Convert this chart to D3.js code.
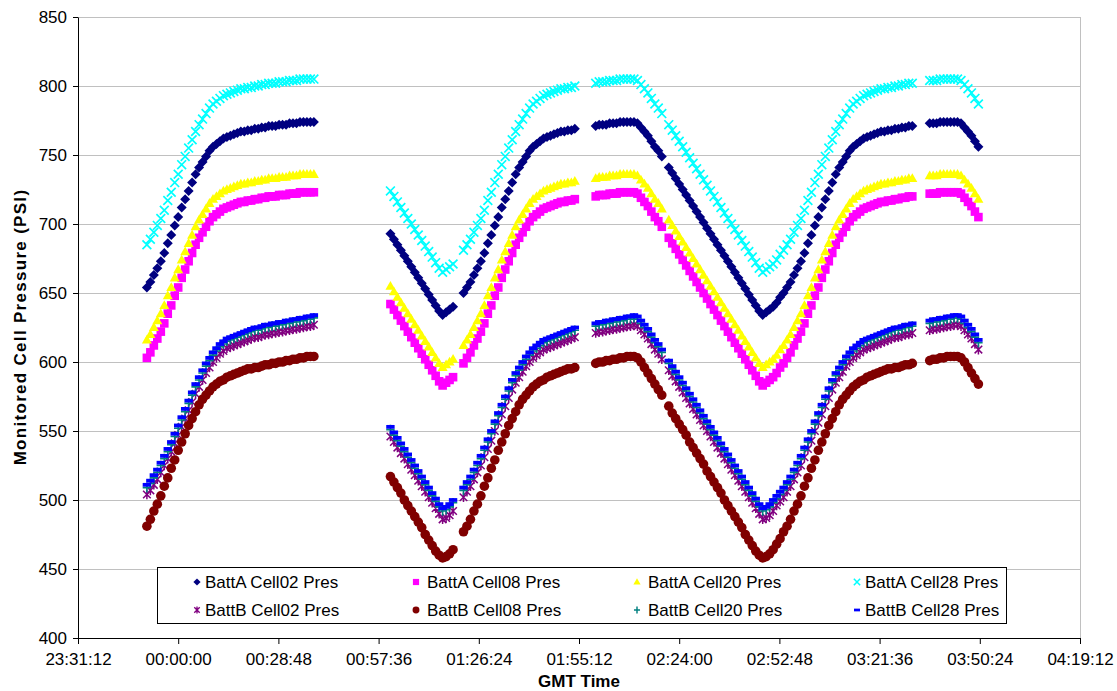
<!DOCTYPE html>
<html><head><meta charset="utf-8">
<script src="https://cdn.jsdelivr.net/npm/d3@7"></script>
<style>body{margin:0;background:#fff;} svg{display:block;font-family:Arial,"Liberation Sans",sans-serif;}</style>
</head><body><svg id="c" width="1117" height="691"></svg>
<script>
// sample segments (minutes after 00:00:00 GMT, 1-minute samples)
const segStarts = [-9, 61, 82, 120, 141, 216];
const segEnds   = [39, 79, 114, 139, 211, 230];
const xTickValues = [-28.8, 0, 28.8, 57.6, 86.4, 115.2, 144, 172.8, 201.6, 230.4, 259.2];
const xTickLabels = ["23:31:12","00:00:00","00:28:48","00:57:36","01:26:24","01:55:12","02:24:00","02:52:48","03:21:36","03:50:24","04:19:12"];
const yTicks = [400,450,500,550,600,650,700,750,800,850];
const seriesNames = ["BattA Cell02 Pres","BattA Cell08 Pres","BattA Cell20 Pres","BattA Cell28 Pres","BattB Cell02 Pres","BattB Cell08 Pres","BattB Cell20 Pres","BattB Cell28 Pres"];

const A02 = [654,658,663,668,673,679,686,692,699,705,712,718,724,730,736,741,745,749,753,756,758,760,762,763,764,765,766,767,767,768,768,769,769,770,770,771,771,771,772,772,772,773,773,773,774,774,774,774,774,
693,689,685,681,677,673,669,665,661,657,653,649,645,641,637,634,636,638,640,
650,654,658,663,668,673,679,686,692,699,705,712,718,724,730,736,741,745,749,753,756,758,760,762,763,764,765,766,767,767,768,768,769,
771,772,772,772,773,773,773,774,774,774,774,774,773,770,767,764,760,756,753,749,
741,737,733,729,725,721,717,713,709,705,701,697,693,689,685,681,677,673,669,665,661,657,653,649,645,641,637,634,636,638,640,643,647,650,654,658,663,668,673,679,686,692,699,705,712,718,724,730,736,741,745,749,753,756,758,760,762,763,764,765,766,767,767,768,768,769,769,770,770,771,771,
773,773,773,774,774,774,774,774,774,773,770,767,764,760,756];

const A08 = [603,607,612,617,622,628,635,641,648,654,661,667,673,679,685,690,694,698,702,705,707,709,711,712,713,714,715,716,716,717,717,718,718,719,719,720,720,720,721,721,721,722,722,722,723,723,723,723,723,
642,638,634,630,626,622,618,614,610,606,602,598,594,590,586,583,585,587,589,
599,603,607,612,617,622,628,635,641,648,654,661,667,673,679,685,690,694,698,702,705,707,709,711,712,713,714,715,716,716,717,717,718,
720,721,721,721,722,722,722,723,723,723,723,723,722,719,716,713,709,705,702,698,
690,686,682,678,674,670,666,662,658,654,650,646,642,638,634,630,626,622,618,614,610,606,602,598,594,590,586,583,585,587,589,592,596,599,603,607,612,617,622,628,635,641,648,654,661,667,673,679,685,690,694,698,702,705,707,709,711,712,713,714,715,716,716,717,717,718,718,719,719,720,720,
722,722,722,723,723,723,723,723,723,722,719,716,713,709,705];

const A20 = [616,620,625,630,635,641,648,654,661,667,674,680,686,692,698,703,707,711,715,718,720,722,724,725,726,727,728,729,729,730,730,731,731,732,732,733,733,733,734,734,734,735,735,735,736,736,736,736,736,
655,651,647,643,639,635,631,627,623,619,615,611,607,603,599,596,598,600,602,
612,616,620,625,630,635,641,648,654,661,667,674,680,686,692,698,703,707,711,715,718,720,722,724,725,726,727,728,729,729,730,730,731,
733,734,734,734,735,735,735,736,736,736,736,736,735,732,729,726,722,718,715,711,
703,699,695,691,687,683,679,675,671,667,663,659,655,651,647,643,639,635,631,627,623,619,615,611,607,603,599,596,598,600,602,605,609,612,616,620,625,630,635,641,648,654,661,667,674,680,686,692,698,703,707,711,715,718,720,722,724,725,726,727,728,729,729,730,730,731,731,732,732,733,733,
735,735,735,736,736,736,736,736,736,735,732,729,726,722,718];

const A28 = [685,689,694,699,704,710,717,723,730,736,743,749,755,761,767,772,776,780,784,787,789,791,793,794,795,796,797,798,798,799,799,800,800,801,801,802,802,802,803,803,803,804,804,804,805,805,805,805,805,
724,720,716,712,708,704,700,696,692,688,684,680,676,672,668,665,667,669,671,
681,685,689,694,699,704,710,717,723,730,736,743,749,755,761,767,772,776,780,784,787,789,791,793,794,795,796,797,798,798,799,799,800,
802,803,803,803,804,804,804,805,805,805,805,805,804,801,798,795,791,787,784,780,
772,768,764,760,756,752,748,744,740,736,732,728,724,720,716,712,708,704,700,696,692,688,684,680,676,672,668,665,667,669,671,674,678,681,685,689,694,699,704,710,717,723,730,736,743,749,755,761,767,772,776,780,784,787,789,791,793,794,795,796,797,798,798,799,799,800,800,801,801,802,802,
804,804,804,805,805,805,805,805,805,804,801,798,795,791,787];

const B02 = [504,507,511,515,520,525,530,535,541,547,553,559,565,571,577,582,587,592,596,600,603,606,608,610,611,612,613,614,615,616,617,618,618,619,620,620,621,621,622,622,623,623,624,624,625,625,626,626,627,
546,542,538,534,530,526,522,518,514,510,506,502,498,494,490,486,487,489,492,
502,506,510,515,520,525,531,537,543,550,556,562,568,574,580,585,589,593,597,600,603,605,607,609,610,611,612,613,614,615,616,617,618,
621,622,622,623,623,624,624,625,625,626,626,627,626,623,620,617,613,609,606,602,
594,590,586,582,578,574,570,566,562,558,554,550,546,542,538,534,530,526,522,518,514,510,506,502,498,494,490,486,487,489,492,496,499,502,506,510,515,520,525,531,537,543,550,556,562,568,574,580,585,589,593,597,600,603,605,607,609,610,611,612,613,614,615,616,617,618,618,619,620,620,621,
623,624,624,625,625,626,626,627,627,626,623,620,617,613,609];

const B08 = [481,486,492,497,503,510,516,523,529,536,542,548,554,559,564,569,573,576,579,582,584,586,587,589,590,591,592,593,594,595,595,596,596,597,598,598,599,599,600,600,601,601,602,602,603,603,604,604,604,
517,513,509,505,500,496,492,488,484,480,475,471,467,463,460,458,459,461,464,
477,481,486,492,497,503,510,516,523,529,536,542,548,554,559,564,569,573,576,579,582,584,586,587,589,590,591,592,593,594,595,595,596,
599,600,600,601,601,602,602,603,603,604,604,604,603,600,596,592,588,584,580,576,
568,563,559,555,551,547,542,538,534,530,526,521,517,513,509,505,500,496,492,488,484,480,475,471,467,463,460,458,459,461,464,468,472,477,481,486,492,497,503,510,516,523,529,536,542,548,554,559,564,569,573,576,579,582,584,586,587,589,590,591,592,593,594,595,595,596,596,597,598,598,599,
601,602,602,603,603,604,604,604,604,603,600,596,592,588,584];

const B20 = [509,512,516,520,525,530,535,540,546,552,558,564,570,576,582,587,592,597,601,605,608,611,613,615,616,617,618,619,620,621,622,623,623,624,625,625,626,626,627,627,628,628,629,629,630,630,631,631,632,
551,547,543,539,535,531,527,523,519,515,511,507,503,499,495,492,493,495,498,
507,511,515,520,525,530,536,542,548,555,561,567,573,579,585,590,594,598,602,605,608,610,612,614,615,616,617,618,619,620,621,622,623,
626,627,627,628,628,629,629,630,630,631,631,632,631,628,625,622,618,614,611,607,
599,595,591,587,583,579,575,571,567,563,559,555,551,547,543,539,535,531,527,523,519,515,511,507,503,499,495,492,493,495,498,501,504,507,511,515,520,525,530,536,542,548,555,561,567,573,579,585,590,594,598,602,605,608,610,612,614,615,616,617,618,619,620,621,622,623,623,624,625,625,626,
628,629,629,630,630,631,631,632,632,631,628,625,622,618,614];

const B28 = [511,514,518,522,527,532,537,542,548,554,560,566,572,578,584,589,594,599,603,607,610,613,615,617,618,619,620,621,622,623,624,625,625,626,627,627,628,628,629,629,630,630,631,631,632,632,633,633,634,
553,549,545,541,537,533,529,525,521,517,513,509,505,501,497,494,495,497,500,
509,513,517,522,527,532,538,544,550,557,563,569,575,581,587,592,596,600,604,607,610,612,614,616,617,618,619,620,621,622,623,624,625,
628,629,629,630,630,631,631,632,632,633,633,634,633,630,627,624,620,616,613,609,
601,597,593,589,585,581,577,573,569,565,561,557,553,549,545,541,537,533,529,525,521,517,513,509,505,501,497,494,495,497,500,503,506,509,513,517,522,527,532,538,544,550,557,563,569,575,581,587,592,596,600,604,607,610,612,614,616,617,618,619,620,621,622,623,624,625,625,626,627,627,628,
630,631,631,632,632,633,633,634,634,633,630,627,624,620,616];

const seriesValues = [A02, A08, A20, A28, B02, B08, B20, B28];
const seriesColors = ["#000080","#FF00FF","#FFFF00","#00FFFF","#800080","#800000","#008080","#0000FF"];
const markerPaths = [
  {d:"M0,-5L5,0L0,5L-5,0Z", fill:true},
  {d:"M-4.3,-4.3H4.3V4.3H-4.3Z", fill:true},
  {d:"M0,-5.2L5,3.6L-5,3.6Z", fill:true},
  {d:"M-4.4,-4.4L4.4,4.4M-4.4,4.4L4.4,-4.4", fill:false, w:1.7},
  {d:"M-3.8,-3.8L3.8,3.8M-3.8,3.8L3.8,-3.8M0,-4.8V4.8", fill:false, w:1.5},
  {d:"M4.8,0A4.8,4.8 0 1,1 -4.8,0A4.8,4.8 0 1,1 4.8,0Z", fill:true},
  {d:"M-4.2,0H4.2M0,-4.8V4.8", fill:false, w:1.6},
  {d:"M-4.2,-1.9H4.2V1.9H-4.2Z", fill:true}
];

// time base
const minutes = [];
segStarts.forEach((s,i)=>{ for(let t=s;t<=segEnds[i];t++) minutes.push(t); });
seriesValues.forEach((arr,i)=>{ if(arr.length!==minutes.length) console.error("length mismatch", seriesNames[i], arr.length, minutes.length); });

const svg = d3.select("#c");
const L=78, R=1080, T=17, B=638;
const x = d3.scaleLinear().domain([-28.8, 259.2]).range([L, R]);
const y = d3.scaleLinear().domain([400, 850]).range([B, T]);

// gridlines
svg.append("g").selectAll("line").data(yTicks.filter(v=>v>400)).join("line")
  .attr("x1", L).attr("x2", R).attr("y1", d=>y(d)).attr("y2", d=>y(d))
  .attr("stroke", "#c0c0c0").attr("stroke-width", 1).attr("shape-rendering","crispEdges");
svg.append("line").attr("x1",R).attr("x2",R).attr("y1",T).attr("y2",B)
  .attr("stroke","#c0c0c0").attr("shape-rendering","crispEdges");

// series
seriesValues.forEach((vals,i)=>{
  const m = markerPaths[i];
  const g = svg.append("g");
  g.selectAll("path").data(vals.map((v,k)=>({t:minutes[k], v}))).join("path")
    .attr("d", m.d)
    .attr("transform", d=>`translate(${x(d.t)},${y(d.v)})`)
    .attr("fill", m.fill ? seriesColors[i] : "none")
    .attr("stroke", m.fill ? "none" : seriesColors[i])
    .attr("stroke-width", m.w || 0);
});

// axes
const xAxis = d3.axisBottom(x).tickValues(xTickValues).tickFormat((d,i)=>xTickLabels[i]).tickSize(6).tickSizeOuter(0).tickPadding(9);
const gx = svg.append("g").attr("transform",`translate(0,${B})`).call(xAxis);
const yAxis = d3.axisLeft(y).tickValues(yTicks).tickSize(5).tickSizeOuter(0).tickPadding(6);
const gy = svg.append("g").attr("transform",`translate(${L},0)`).call(yAxis);
[gx, gy].forEach(g=>{
  g.selectAll("text").attr("font-size",17).attr("fill","#000").attr("font-family","Arial, 'Liberation Sans', sans-serif");
  g.selectAll("line").attr("stroke","#000");
  g.select(".domain").attr("stroke","#000");
});

// axis titles
svg.append("text").attr("x", 579).attr("y", 687).attr("text-anchor","middle")
  .attr("font-size",17).attr("font-weight","bold").text("GMT Time");
svg.append("text").attr("transform","translate(26,327) rotate(-90)").attr("text-anchor","middle")
  .attr("font-size",17).attr("font-weight","bold").attr("letter-spacing","1.3px").text("Monitored Cell Pressure (PSI)");

// legend
const lg = svg.append("g");
lg.append("rect").attr("x",157.5).attr("y",567.5).attr("width",849).attr("height",56)
  .attr("fill","#fff").attr("stroke","#000").attr("stroke-width",1);
const colMarkerX = [197, 416, 637, 857];
const colTextX = [205, 427, 648, 865];
const rowY = [582, 610];
seriesNames.forEach((name,i)=>{
  const r = Math.floor(i/4), c = i%4;
  const m = markerPaths[i];
  lg.append("path").attr("d", m.d)
    .attr("transform", `translate(${colMarkerX[c]},${rowY[r]}) scale(0.72)`)
    .attr("fill", m.fill ? seriesColors[i] : "none")
    .attr("stroke", m.fill ? "none" : seriesColors[i])
    .attr("stroke-width", m.w ? m.w/0.72*0.9 : 0);
  lg.append("text").attr("x", colTextX[c]).attr("y", rowY[r]).attr("dy","0.35em")
    .attr("font-size",17).text(name);
});
</script></body></html>
